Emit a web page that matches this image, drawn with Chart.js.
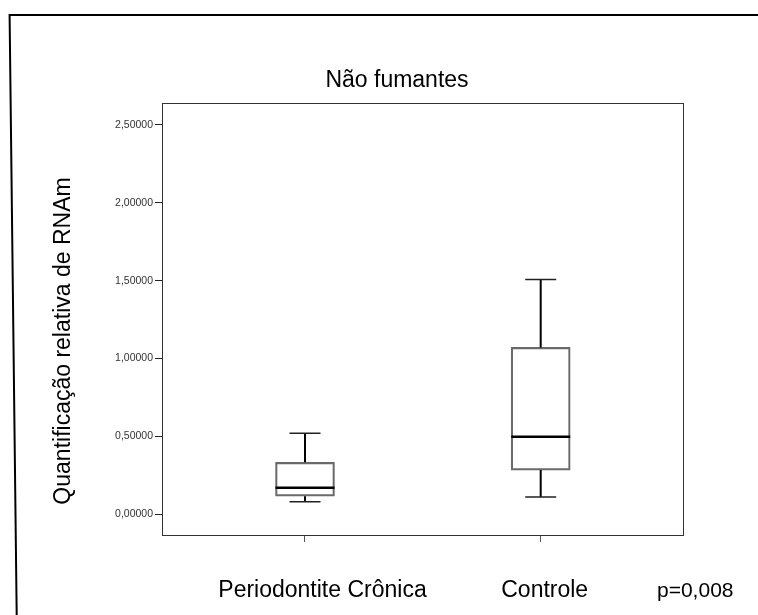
<!DOCTYPE html>
<html>
<head>
<meta charset="utf-8">
<script src="https://cdn.jsdelivr.net/npm/chart.js@4"></script>
<style>
  html, body { margin: 0; padding: 0; background: #fff; }
  #wrap { width: 758px; height: 615px; }
</style>
</head>
<body>
<div id="wrap"><canvas id="c" width="758" height="615"></canvas></div>
<script>
// Relative mRNA quantification, non-smokers: five-number summaries per group
const groups = ['Periodontite Crônica', 'Controle'];
const whiskerLow  = [0.081, 0.111];
const quartile1   = [0.117, 0.284];
const medians     = [0.171, 0.498];
const quartile3   = [0.334, 1.072];
const whiskerHigh = [0.520, 1.508];
const yTicks = [0, 0.5, 1.0, 1.5, 2.0, 2.5];

const chartTitle = 'Não fumantes';
const yTitle = 'Quantificação relativa de RNAm';
const pValueText = 'p=0,008';

const FONT = '"Liberation Sans", Arial, sans-serif';

const boxPlotDecor = {
  id: 'boxPlotDecor',
  beforeDraw(chart) {
    const ctx = chart.ctx;
    ctx.save();
    ctx.fillStyle = '#fff';
    ctx.fillRect(0, 0, chart.width, chart.height);
    // outer frame (top and left edges)
    ctx.strokeStyle = '#000';
    ctx.lineWidth = 2;
    ctx.beginPath();
    ctx.moveTo(758, 15);
    ctx.lineTo(9.6, 15);
    ctx.lineTo(16.7, 615);
    ctx.stroke();
    ctx.restore();
  },
  afterDatasetsDraw(chart) {
    const ctx = chart.ctx;
    const xs = chart.scales.x, ys = chart.scales.y;
    const a = chart.chartArea;
    ctx.save();
    // plot frame
    ctx.strokeStyle = '#333';
    ctx.lineWidth = 1;
    ctx.strokeRect(Math.round(a.left) + 0.5, Math.round(a.top) + 0.5,
                   Math.round(a.right - a.left) - 1, Math.round(a.bottom - a.top) - 1);

    groups.forEach((g, i) => {
      const x = xs.getPixelForValue(i);
      const yLo = ys.getPixelForValue(whiskerLow[i]);
      const yQ1 = ys.getPixelForValue(quartile1[i]);
      const yMed = ys.getPixelForValue(medians[i]);
      const yQ3 = ys.getPixelForValue(quartile3[i]);
      const yHi = ys.getPixelForValue(whiskerHigh[i]);
      // whisker stems
      ctx.strokeStyle = '#000';
      ctx.lineWidth = 2;
      ctx.beginPath();
      ctx.moveTo(x, yQ3); ctx.lineTo(x, yHi);
      ctx.moveTo(x, yQ1); ctx.lineTo(x, yLo);
      ctx.stroke();
      // whisker caps
      ctx.strokeStyle = '#222';
      ctx.lineWidth = 1.5;
      ctx.beginPath();
      ctx.moveTo(x - 15.5, yHi); ctx.lineTo(x + 15.5, yHi);
      ctx.moveTo(x - 15.5, yLo); ctx.lineTo(x + 15.5, yLo);
      ctx.stroke();
      // median
      ctx.strokeStyle = '#000';
      ctx.lineWidth = 2.5;
      ctx.beginPath();
      ctx.moveTo(x - 29.5, yMed); ctx.lineTo(x + 29.5, yMed);
      ctx.stroke();
    });

    // texts
    ctx.fillStyle = '#000';
    ctx.textBaseline = 'alphabetic';
    ctx.font = '23px ' + FONT;
    ctx.textAlign = 'center';
    ctx.fillText(chartTitle, 397, 87);

    const labelShift = [17.5, 4];
    groups.forEach((g, i) => {
      ctx.fillText(g, xs.getPixelForValue(i) + labelShift[i], 597);
    });

    ctx.font = '21px ' + FONT;
    ctx.textAlign = 'left';
    ctx.fillText(pValueText, 657, 597);

    ctx.font = '23px ' + FONT;
    ctx.textAlign = 'center';
    ctx.translate(70, 341);
    ctx.rotate(-Math.PI / 2);
    ctx.fillText(yTitle, 0, 0);
    ctx.restore();
  }
};

new Chart(document.getElementById('c'), {
  type: 'bar',
  data: {
    datasets: [{
      label: 'IQR',
      data: groups.map((g, i) => ({ x: i, y: [quartile1[i], quartile3[i]] })),
      backgroundColor: 'rgba(255,255,255,0)',
      borderColor: '#6a6a6a',
      borderWidth: 1.5,
      borderSkipped: false,
      barThickness: 59
    }]
  },
  options: {
    responsive: false,
    devicePixelRatio: 1,
    animation: false,
    events: [],
    layout: { padding: { left: 0, top: 103, right: 74, bottom: 0 } },
    plugins: {
      legend: { display: false },
      title: { display: false },
      tooltip: { enabled: false }
    },
    scales: {
      x: {
        type: 'linear',
        min: -0.6067,
        max: 1.608,
        offset: false,
        grid: { display: true, drawOnChartArea: false, drawTicks: true, tickLength: 6, color: '#555', lineWidth: 1, offset: false },
        border: { display: false },
        ticks: { display: false },
        afterBuildTicks: ax => { ax.ticks = groups.map((g, i) => ({ value: i })); },
        afterFit: ax => { ax.height = 79; }
      },
      y: {
        type: 'linear',
        min: -0.139,
        max: 2.641,
        grid: { display: true, drawOnChartArea: false, drawTicks: true, tickLength: 7, color: '#222', lineWidth: 1 },
        border: { display: false },
        ticks: {
          padding: 2,
          color: '#333',
          font: { family: FONT, size: 10.5 },
          callback: v => v.toFixed(5).replace('.', ',')
        },
        afterBuildTicks: ax => { ax.ticks = yTicks.map(v => ({ value: v })); },
        afterFit: ax => { ax.width = 162; }
      }
    }
  },
  plugins: [boxPlotDecor]
});
</script>
</body>
</html>
